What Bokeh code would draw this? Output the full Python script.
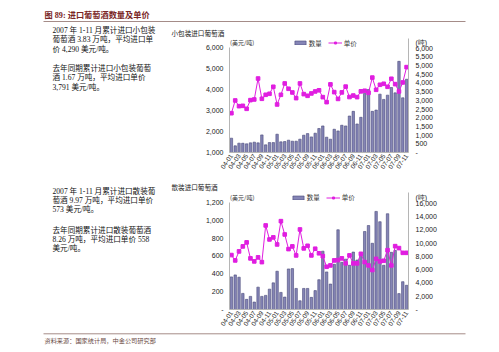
from bokeh.plotting import figure
from bokeh.models import (Range1d, LinearAxis, FixedTicker, NumeralTickFormatter,
                          Legend, LegendItem, Label)
from bokeh.layouts import column, row
from bokeh.embed import file_html
from bokeh.resources import INLINE
from bokeh.core.properties import value

# ---------------- data ----------------
tick_labels = ["04-01", "04-03", "04-05", "04-07", "04-09", "04-11",
               "05-01", "05-03", "05-05", "05-07", "05-09", "05-11",
               "06-01", "06-03", "06-05", "06-07", "06-09", "06-11",
               "07-01", "07-03", "07-05", "07-07", "07-09", "07-11"]

# small-package wine: quantity (tons, right axis) and unit price (USD/ton, left axis)
small_qty = [823, 383, 537, 531, 497, 554, 594, 554, 1011, 440,
             571, 571, 1051, 611, 629, 709, 651, 651, 766, 994,
             1086, 897, 1110, 1380, 1526, 880, 766, 1337, 1240, 1566,
             1526, 2097, 2366, 1640, 2023, 3394, 3623, 2366, 2440, 3354,
             3051, 3297, 3737, 3429, 5240, 3143, 4211]
small_price = [2870, 3476, 3205, 3220, 3079, 3492, 3524, 4520, 3556, 3746,
               3794, 4127, 3286, 3746, 4286, 4032, 3857, 3587, 4286, 3778,
               3698, 3810, 3905, 3960, 3635, 3397, 4240, 3873, 3550, 3860,
               4135, 3640, 3710, 3635, 3910, 3937, 3840, 4565, 3984, 4222,
               4270, 4127, 4508, 4254, 3905, 4333, 5063]

# bulk wine: quantity (tons, right axis) and unit price (USD/ton, left axis)
bulk_qty = [4903, 5202, 4858, 2421, 1525, 1973, 1121, 3363, 1973, 2122,
            3064, 4006, 5755, 2571, 1868, 6099, 6149, 3169, 1315, 3169,
            3169, 1824, 2840, 4480, 8770, 5650, 3830, 6800, 11990, 7100,
            7570, 6650, 8640, 7444, 8296, 11734, 12630, 9960, 14750, 13200,
            6652, 14400, 8600, 8894, 2390, 4180, 3640]
bulk_price = [610, 550, 651, 707, 752, 573, 539, 584, 531, 942,
              785, 808, 729, 990, 841, 677, 707, 606, 897, 685,
              714, 606, 681, 630, 598, 479, 494, 550, 554, 573,
              517, 606, 517, 517, 624, 531, 494, 442, 568, 539,
              546, 665, 494, 710, 688, 635, 635]

small_price_ticks = [1000, 2000, 3000, 4000, 5000, 6000]
small_qty_ticks = [0, 500, 1000, 1500, 2000, 2500, 3000, 3500, 4000, 4500, 5000, 5500, 6000]
bulk_price_ticks = [0, 200, 400, 600, 800, 1000, 1200]
bulk_qty_ticks = [0, 2000, 4000, 6000, 8000, 10000, 12000, 14000, 16000]

header_text = "图 89:  进口葡萄酒数量及单价"
source_text = "资料来源：国家统计局，中金公司研究部"
small_title = "小包装进口葡萄酒"
bulk_title = "散装进口葡萄酒"
price_unit = "(美元/吨)"
qty_unit = "(吨)"
qty_name = "数量"
price_name = "单价"
note_small = ["2007 年 1-11 月累计进口小包装",
              "葡萄酒 3.83 万吨，平均进口单",
              "价 4,290 美元/吨。",
              "去年同期累计进口小包装葡萄",
              "酒 1.67 万吨，平均进口单价",
              "3,791 美元/吨。"]
note_bulk = ["2007 年 1-11 月累计进口散装葡",
             "萄酒 9.97 万吨，平均进口单价",
             "573 美元/吨。",
             "去年同期累计进口散装葡萄酒",
             "8.26 万吨，平均进口单价 558",
             "美元/吨。"]

# ---------------- styles ----------------
SERIF = "'Liberation Serif', 'Noto Sans CJK SC'"
SANS = "Liberation Sans"
CJK = "Noto Sans CJK SC"
BAR_FILL = "#8585b6"
BAR_LINE = "#484878"
PINK = "#e01ee0"
AXIS = "#b5b5b5"
RULE = "#a58c88"
TITLE_RED = "#7a2626"

CH_X0, CH_W, CH_BL, CH_BT = 165, 334, 64, 13


def text_fig(w, h):
    p = figure(width=w, height=h, x_range=Range1d(0, w), y_range=Range1d(h, 0),
               x_axis_location=None, y_axis_location=None, toolbar_location=None,
               output_backend="svg", min_border=0, outline_line_color=None, title=None)
    p.grid.visible = False
    return p


def chart(gy0, H, br, bb, qty, price, p_anchor, q_anchor, pticks, qticks,
          q_unit_tick, title, title_x, lunit_xy, legend_xy):
    n = len(qty)
    fx0, fx1 = CH_X0 + CH_BL, CH_X0 + CH_W - br
    fy0, fy1 = gy0 + CH_BT, gy0 + H - bb

    def rng(anchor):
        v0, v1, y1 = anchor          # v0 sits on the frame bottom, v1 at pixel row y1
        per_px = (v1 - v0) / (fy1 - y1)
        return v0, v1 + (y1 - fy0) * per_px

    pr = rng(p_anchor)
    qr = rng(q_anchor)
    p = figure(width=CH_W, height=H, x_range=Range1d(-0.5, n - 0.5), y_range=Range1d(*pr),
               toolbar_location=None, output_backend="svg", title=title,
               min_border_left=CH_BL, min_border_right=br, min_border_top=CH_BT,
               min_border_bottom=bb, outline_line_color=None)
    p.title.align = "left"
    p.title.offset = title_x - fx0
    p.title.standoff = 2
    p.title.text_font = CJK
    p.title.text_font_size = "6.6px"
    p.title.text_font_style = "normal"
    p.title.text_color = "#222222"
    p.extra_y_ranges = {"qty": Range1d(*qr)}
    p.grid.visible = False
    xs = list(range(n))
    bars = p.vbar(x=xs, top=qty, bottom=0, width=0.64, y_range_name="qty",
                  fill_color=BAR_FILL, line_color=BAR_LINE, line_width=0.6)
    ln = p.line(xs, price, line_color=PINK, line_width=1)
    mk = p.scatter(xs, price, marker="square", size=3.6, fill_color=PINK, line_color=PINK)

    right = LinearAxis(y_range_name="qty")
    p.add_layout(right, "right")
    left = p.yaxis[0]
    bottom = p.xaxis[0]
    for ax in (left, right, bottom):
        ax.axis_line_color = AXIS
        ax.major_tick_out = 0
        ax.major_tick_in = 0
        ax.minor_tick_out = 0
        ax.minor_tick_in = 0
        ax.major_label_text_font = SANS
        ax.major_label_text_font_size = "7px"
        ax.major_label_text_color = "#222222"
    left.ticker = FixedTicker(ticks=pticks)
    left.formatter = NumeralTickFormatter(format="0,0")
    left.major_label_overrides = {0: "-"}
    left.major_label_standoff = 6
    left.bounds = (pticks[0], pticks[-1])
    right.ticker = FixedTicker(ticks=qticks + [q_unit_tick])
    right.formatter = NumeralTickFormatter(format="0,0")
    right.major_label_overrides = {0: "-", q_unit_tick: qty_unit}
    right.major_label_standoff = 7
    bt_ticks = list(range(0, n, 2))
    bottom.ticker = FixedTicker(ticks=bt_ticks)
    bottom.major_label_overrides = {t: lab for t, lab in zip(bt_ticks, tick_labels)}
    bottom.major_label_orientation = 0.96
    bottom.major_label_standoff = 2
    bottom.major_label_text_font_size = "6.5px"

    def to_data(gx, gy):
        x = -0.5 + (gx - fx0) / (fx1 - fx0) * n
        y = pr[1] - (gy - fy0) / (fy1 - fy0) * (pr[1] - pr[0])
        return x, y

    lx, ly = to_data(*lunit_xy)
    p.add_layout(Label(x=lx, y=ly, text=price_unit, text_font=CJK, text_font_size="6px",
                       text_color="#333333", text_align="left", text_baseline="middle"))

    box_left, cy = legend_xy
    legend = Legend(items=[LegendItem(label=qty_name, renderers=[bars]),
                           LegendItem(label=price_name, renderers=[ln, mk])],
                    location=(box_left - fx0, fy1 - (cy + 4.5)),
                    orientation="horizontal", background_fill_alpha=0,
                    border_line_color=None, label_text_font=CJK,
                    label_text_font_size="6.5px", label_text_color="#333333",
                    glyph_width=14, glyph_height=5, label_standoff=2, spacing=6,
                    padding=0, margin=0, label_height=7, label_width=12)
    p.add_layout(legend)
    return p


# ---------------- header ----------------
head = text_fig(499, 24)
head.text(x=[44], y=[14.7], text=[header_text], text_font=value(SERIF),
          text_font_size=value("8.2px"), text_font_style="bold", text_color=TITLE_RED,
          text_baseline="middle", text_align="left")
head.segment(x0=[43], y0=[21], x1=[465], y1=[21], line_color=RULE, line_width=1)

# ---------------- left notes ----------------
notes = text_fig(165, 308)
ys_a = [29.5, 39, 48.5, 67.5, 77, 86.5]
ys_b = [191, 200, 209, 230, 239, 248]
notes.text(x=[52] * 12, y=[y - 24 for y in ys_a + ys_b], text=note_small + note_bulk,
           text_font=value(SERIF), text_font_size=value("7.6px"), text_color="#111111",
           text_baseline="middle", text_align="left")

# ---------------- charts ----------------
chart_a = chart(24, 154, 89, 26, small_qty, small_price,
                (1000, 6000, 46), (0, 6000, 46.7), small_price_ticks, small_qty_ticks,
                6325, small_title, 171, (229.5, 41), (292.7, 43))
chart_b = chart(178, 154, 91, 23, bulk_qty, bulk_price,
                (0, 1200, 201), (0, 16000, 201.7), bulk_price_ticks, bulk_qty_ticks,
                16900, bulk_title, 171, (229.5, 196), (290.7, 197.7))

# ---------------- footer ----------------
foot = text_fig(499, 20)
foot.segment(x0=[43], y0=[1.3], x1=[465], y1=[1.3], line_color=RULE, line_width=1)
foot.text(x=[44], y=[8], text=[source_text], text_font=value(SERIF),
          text_font_size=value("6.2px"), text_color="#6a4a44",
          text_baseline="middle", text_align="left")

layout = column(head, row(notes, column(chart_a, chart_b)), foot)

open("out.html", "w").write(file_html(layout, INLINE))
